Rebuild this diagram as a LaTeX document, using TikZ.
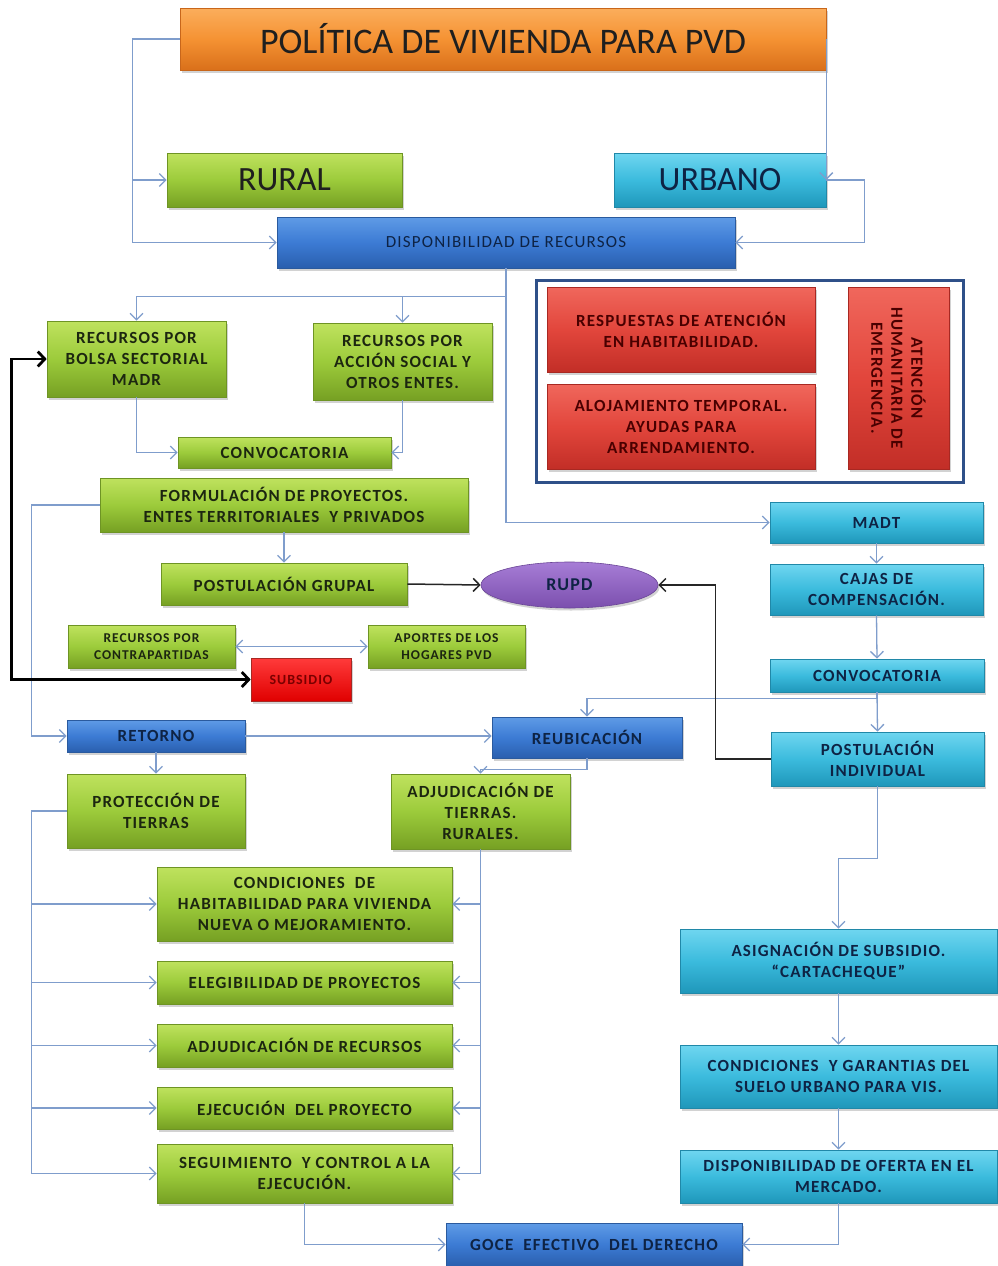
\documentclass[tikz,border=0pt]{standalone}
\usepackage{fontspec}
\setmainfont{Carlito}
\usetikzlibrary{arrows.meta,shadows,shapes.geometric}

\newcommand\fsz[2]{\fontsize{#1}{#2}\selectfont}
\newcommand\spaced{\addfontfeature{LetterSpace=7}}

% fills
\definecolor{otop}{HTML}{FBAE5C}\definecolor{omid}{HTML}{F59233}\definecolor{obot}{HTML}{D9701A}\definecolor{obord}{HTML}{C8661A}
\definecolor{gtop}{HTML}{BFE25E}\definecolor{gmid}{HTML}{9CCB3B}\definecolor{gbot}{HTML}{76A023}\definecolor{gbord}{HTML}{6E9424}
\definecolor{ctop}{HTML}{6FD6F0}\definecolor{cmid}{HTML}{3BBBDD}\definecolor{cbot}{HTML}{1F97BA}\definecolor{cbord}{HTML}{2088A8}
\definecolor{btop}{HTML}{5F9BE6}\definecolor{bmid}{HTML}{3C7BD4}\definecolor{bbot}{HTML}{2A5FAE}\definecolor{bbord}{HTML}{2A5A9E}
\definecolor{rtop}{HTML}{F0675C}\definecolor{rmid}{HTML}{E2463C}\definecolor{rbot}{HTML}{C22E27}\definecolor{rbord}{HTML}{A82822}
\definecolor{stop}{HTML}{FF3B3B}\definecolor{sbot}{HTML}{E00000}
\definecolor{ptop}{HTML}{A77DD6}\definecolor{pbot}{HTML}{7B4FAE}\definecolor{pbord}{HTML}{6A4596}
\definecolor{lineblue}{HTML}{7F9DCC}
\definecolor{frameblue}{HTML}{2F5089}
\definecolor{txtdark}{HTML}{1C2610}
\definecolor{txtnavy}{HTML}{0E2344}
\definecolor{txtred}{HTML}{7A0000}

\tikzset{
  base/.style={rectangle, inner sep=1pt, align=center, line width=0.6pt,
    drop shadow={opacity=0.35, shadow xshift=1.5pt, shadow yshift=-2.5pt},
    font=\fsz{17}{21}\bfseries\spaced, text=txtdark},
  obox/.style={base, draw=obord, top color=otop, bottom color=obot, middle color=omid},
  gbox/.style={base, draw=gbord, top color=gtop, bottom color=gbot, middle color=gmid},
  cbox/.style={base, draw=cbord, top color=ctop, bottom color=cbot, middle color=cmid, text=txtnavy},
  bbox/.style={base, draw=bbord, top color=btop, bottom color=bbot, middle color=bmid, text=txtnavy},
  rbox/.style={base, draw=rbord, top color=rtop, bottom color=rbot, middle color=rmid, text=txtred!60!black},
  sbox/.style={base, draw=rbord, top color=stop, bottom color=sbot, text=txtred, font=\fsz{14}{16}\bfseries\spaced},
  smallg/.style={gbox, font=\fsz{13.5}{17}\bfseries\spaced},
  pell/.style={ellipse, inner sep=0pt, draw=pbord, line width=0.6pt, top color=ptop, bottom color=pbot,
    drop shadow={opacity=0.35, shadow xshift=1.5pt, shadow yshift=-2.5pt},
    font=\fsz{18}{20}\bfseries\spaced, text=txtnavy},
  tip/.tip={Straight Barb[length=6.5pt,width=13pt]},
  bigtip/.tip={Straight Barb[length=7pt,width=15pt]},
  arr/.style={draw=lineblue, line width=1.3pt, -tip},
  darr/.style={draw=lineblue, line width=1.3pt, tip-tip},
  karr/.style={draw=black!85, line width=1.5pt, -tip},
  kkarr/.style={draw=black, line width=2.8pt, bigtip-bigtip},
}

\begin{document}
\begin{tikzpicture}[x=1pt,y=-1pt]
\fill[white] (0,0) rectangle (998,1266);
\useasboundingbox (0,0) rectangle (998,1266);

% ---- top level
\node[obox, minimum width=646pt, minimum height=62pt, font=\fsz{36}{40}, text=black!88] (title) at (503,39) {POLÍTICA DE VIVIENDA PARA PVD};
\node[gbox, minimum width=235pt, minimum height=54pt, font=\fsz{34}{38}, text=black!88] (rural) at (284.5,180) {RURAL};
\node[cbox, minimum width=212pt, minimum height=54pt, font=\fsz{34}{38}] (urbano) at (720,180) {URBANO};
\node[bbox, minimum width=458pt, minimum height=51pt, font=\fsz{17}{20}\spaced] (disp) at (506,242.5) {DISPONIBILIDAD DE RECURSOS};

% ---- rural branch
\node[gbox, minimum width=179pt, minimum height=76pt] (bolsa) at (136.5,359) {RECURSOS POR\\BOLSA SECTORIAL\\MADR};
\node[gbox, minimum width=179pt, minimum height=77pt] (accion) at (402.5,361.5) {RECURSOS POR\\ACCIÓN SOCIAL Y\\OTROS ENTES.};
\node[gbox, minimum width=213pt, minimum height=31pt] (conv1) at (284.5,452.5) {CONVOCATORIA};
\node[gbox, minimum width=368pt, minimum height=54pt] (formul) at (284,505) {FORMULACIÓN DE PROYECTOS.\\ENTES TERRITORIALES \ Y PRIVADOS};
\node[gbox, minimum width=246pt, minimum height=42pt] (postg) at (284,584) {POSTULACIÓN GRUPAL};
\node[pell, minimum width=177pt, minimum height=46pt] (rupd) at (569.5,585) {RUPD};
\node[smallg, minimum width=167pt, minimum height=43pt] (contra) at (151.5,646.5) {RECURSOS POR\\CONTRAPARTIDAS};
\node[smallg, minimum width=157pt, minimum height=43pt] (aportes) at (446.5,646.5) {APORTES DE LOS\\HOGARES PVD};
\node[sbox, minimum width=100pt, minimum height=43pt] (subsidio) at (301,679.5) {SUBSIDIO};
\node[bbox, minimum width=178pt, minimum height=32pt] (retorno) at (156,736) {RETORNO};
\node[bbox, minimum width=190pt, minimum height=41pt] (reubic) at (587,737.5) {REUBICACIÓN};
\node[gbox, minimum width=178pt, minimum height=74pt] (protec) at (156,811) {PROTECCIÓN DE\\TIERRAS};
\node[gbox, minimum width=179pt, minimum height=75pt] (adjt) at (480.5,811.5) {ADJUDICACIÓN DE\\TIERRAS.\\RURALES.};
\node[gbox, minimum width=295pt, minimum height=74pt] (condhab) at (304.5,904) {CONDICIONES \ DE\\HABITABILIDAD PARA VIVIENDA\\NUEVA O MEJORAMIENTO.};
\node[gbox, minimum width=295pt, minimum height=43pt] (elegib) at (304.5,982.5) {ELEGIBILIDAD DE PROYECTOS};
\node[gbox, minimum width=295pt, minimum height=43pt] (adjrec) at (304.5,1045.5) {ADJUDICACIÓN DE RECURSOS};
\node[gbox, minimum width=295pt, minimum height=42pt] (ejec) at (304.5,1108) {EJECUCIÓN \ DEL PROYECTO};
\node[gbox, minimum width=295pt, minimum height=59pt] (segui) at (304.5,1173.5) {SEGUIMIENTO \ Y CONTROL A LA\\EJECUCIÓN.};
\node[bbox, minimum width=296pt, minimum height=43pt] (goce) at (594,1244.5) {GOCE \ EFECTIVO \ DEL DERECHO};

% ---- emergency attention frame
\draw[frameblue, line width=3pt] (536,280) rectangle (963,482);
\node[rbox, minimum width=268pt, minimum height=85pt] (resp) at (681,329.5) {RESPUESTAS DE ATENCIÓN\\EN HABITABILIDAD.};
\node[rbox, minimum width=268pt, minimum height=85pt] (aloj) at (681,426.5) {ALOJAMIENTO TEMPORAL.\\AYUDAS PARA\\ARRENDAMIENTO.};
\node[rbox, minimum width=101pt, minimum height=182pt] (atenc) at (898.5,378) {};
\node[rotate=-90, align=center, font=\fsz{17}{20}\bfseries\spaced, text=txtred!60!black] (atenctxt) at (atenc.center) {ATENCIÓN\\HUMANITARIA DE\\EMERGENCIA.};

% ---- urban branch
\node[cbox, minimum width=213pt, minimum height=41pt] (madt) at (876.5,522.5) {MADT};
\node[cbox, minimum width=213pt, minimum height=51pt] (cajas) at (876.5,589.5) {CAJAS DE\\COMPENSACIÓN.};
\node[cbox, minimum width=214pt, minimum height=33pt] (conv2) at (877,675.5) {CONVOCATORIA};
\node[cbox, minimum width=213pt, minimum height=54pt] (posti) at (877.5,759) {POSTULACIÓN\\INDIVIDUAL};
\node[cbox, minimum width=317pt, minimum height=64pt] (asign) at (838.5,961) {ASIGNACIÓN DE SUBSIDIO.\\``CARTACHEQUE''};
\node[cbox, minimum width=317pt, minimum height=63pt] (condgar) at (838.5,1076.5) {CONDICIONES \ Y GARANTIAS DEL\\SUELO URBANO PARA VIS.};
\node[cbox, minimum width=317pt, minimum height=53pt] (oferta) at (838.5,1176.5) {DISPONIBILIDAD DE OFERTA EN EL\\MERCADO.};

% ---- connectors: top
\draw[arr] (title.west) -- ++(-47,0) |- (rural.west);
\draw[arr] (title.west) -- ++(-47,0) |- (disp.west);
\draw[arr] (title.east) -- (urbano.east);
\draw[arr] (urbano.east) -- ++(38,0) |- (disp.east);
\draw[arr] (disp.south) -- ++(0,28) -| (bolsa.north);
\draw[arr] (disp.south) -- ++(0,28) -| (accion.north);
\draw[arr] (disp.south) |- (madt.west);

% ---- connectors: rural branch
\draw[arr] (bolsa.south) |- (conv1.west);
\draw[arr] (accion.south) |- (conv1.east);
\draw[arr] (formul.south) -- (postg.north);
\draw[arr] (formul.west) -- ++(-68,0) |- (retorno.west);
\draw[karr] (postg.east) -- (rupd.west);
\draw[kkarr] (bolsa.west) -- ++(-35,0) |- (subsidio.west);
\draw[darr] (contra.east) -- (aportes.west);
\draw[arr] (retorno.east) -- (retorno.east -| reubic.west);
\draw[arr] (retorno.south) -- (protec.north);
\draw[arr] (reubic.south) -- ++(0,11) -| (adjt.north);
\foreach \t in {condhab,elegib,adjrec,ejec,segui}{
  \draw[arr] (protec.west) -- ++(-35,0) |- (\t.west);
  \draw[arr] (adjt.south) |- (\t.east);
}
\draw[arr] (segui.south) |- (goce.west);

% ---- connectors: urban branch
\draw[arr] (madt.south) -- (cajas.north);
\draw[arr] (cajas.south) -- (conv2.north);
\draw[arr] (conv2.south) -- (posti.north);
\draw[arr] (conv2.south) -- ++(0,6) -| (reubic.north);
\draw[karr] (posti.west) -- ++(-55,0) |- (rupd.east);
\draw[arr] (posti.south) -- ++(0,72) -| (asign.north);
\draw[arr] (asign.south) -- (condgar.north);
\draw[arr] (condgar.south) -- (oferta.north);
\draw[arr] (oferta.south) |- (goce.east);
\end{tikzpicture}
\end{document}
